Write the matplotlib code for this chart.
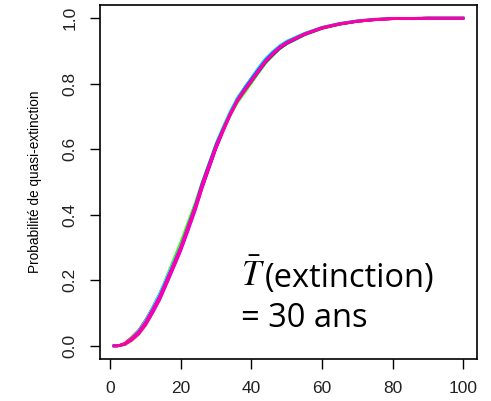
import numpy as np
import matplotlib
matplotlib.use("Agg")
import matplotlib.pyplot as plt

plt.rcParams['font.family'] = ['Liberation Sans', 'DejaVu Sans']
plt.rcParams['mathtext.fontset'] = 'stix'

# years at which the cumulative quasi-extinction probability is read
annees = [1, 2, 4, 6, 8, 10, 12, 14, 16, 18, 20, 22, 24, 26, 28, 30, 32, 34,
          36, 38, 40, 42, 44, 46, 48, 50, 55, 60, 65, 70, 75, 80, 90, 100]

# one curve per simulation run
courbes = [
    [0, 0, .008, .026, .048, .080, .118, .160, .208, .256, .305, .361, .418, .484, .545, .606, .660, .712, .756, .788, .818, .848, .876, .897, .915, .929, .953, .972, .984, .992, .997, .999, 1, 1],
    [0, 0, .003, .015, .034, .062, .100, .140, .190, .242, .296, .358, .421, .492, .553, .612, .660, .705, .745, .776, .806, .836, .864, .886, .907, .922, .949, .968, .981, .990, .995, .999, 1, 1],
    [0, 0, .006, .022, .045, .076, .117, .160, .213, .266, .318, .377, .435, .500, .557, .613, .660, .704, .742, .772, .802, .833, .862, .885, .906, .921, .948, .968, .981, .990, .996, .999, 1, 1],
    [0, 0, .004, .018, .038, .066, .104, .146, .197, .249, .301, .363, .426, .497, .559, .620, .670, .717, .757, .786, .815, .843, .871, .892, .911, .925, .950, .969, .982, .990, .995, .998, 1, 1],
    [0, 0, .006, .023, .046, .078, .118, .161, .210, .258, .306, .364, .422, .488, .547, .607, .660, .711, .755, .787, .818, .849, .877, .898, .916, .930, .954, .972, .984, .992, .996, .999, 1, 1],
    [0, 0, .005, .019, .039, .068, .106, .147, .196, .246, .297, .356, .416, .484, .545, .606, .658, .709, .752, .784, .814, .844, .872, .894, .913, .927, .952, .971, .983, .991, .996, .999, 1, 1],
    [0, 0, .006, .021, .043, .073, .112, .153, .203, .253, .304, .365, .426, .496, .556, .615, .664, .710, .749, .778, .807, .836, .865, .887, .907, .922, .949, .969, .981, .990, .995, .998, 1, 1],
    [0, 0, .004, .017, .036, .064, .101, .141, .190, .240, .291, .350, .411, .480, .542, .603, .655, .704, .746, .778, .808, .839, .868, .890, .910, .924, .950, .969, .982, .990, .995, .998, 1, 1],
    [0, 0, .006, .021, .042, .072, .111, .152, .202, .252, .303, .363, .423, .492, .552, .612, .662, .710, .751, .781, .811, .841, .870, .892, .912, .926, .952, .971, .983, .991, .996, .999, 1, 1],
    [0, 0, .005, .020, .040, .069, .107, .148, .198, .247, .298, .358, .418, .487, .548, .608, .658, .706, .747, .778, .808, .839, .868, .890, .910, .925, .951, .970, .982, .990, .995, .998, 1, 1],
]
couleurs = ['#FF0000', '#FFCC00', '#33FF00', '#00FF99', '#00FFFF',
            '#0033FF', '#6600FF', '#CC00FF', '#FF00FF', '#FF0099']

fig = plt.figure(figsize=(4.91, 4.01), dpi=100)
ax = fig.add_axes([0.2037, 0.1047, 0.7678, 0.8828])

for y, c in zip(courbes, couleurs):
    ax.plot(annees, y, color=c, lw=1.8, solid_joinstyle='miter')

ax.set_xlim(-2.96, 103.96)
ax.set_ylim(-0.04, 1.04)
ax.set_xticks([0, 20, 40, 60, 80, 100])
ax.set_yticks([0.0, 0.2, 0.4, 0.6, 0.8, 1.0])
ax.set_yticklabels(['0.0', '0.2', '0.4', '0.6', '0.8', '1.0'], rotation=90, va='center')
ax.tick_params(axis='both', direction='out', length=7, width=1, labelsize=12.5,
               pad=9, labelcolor='#222222')
for s in ax.spines.values():
    s.set_linewidth(1.2)

ax.set_ylabel('Probabilité de quasi-extinction', fontsize=9.8, labelpad=15)

ax.text(0.375, 0.206, r'$\bar{T}$', transform=ax.transAxes,
        fontsize=25, va='baseline')
ax.text(0.438, 0.203, '(extinction)', transform=ax.transAxes,
        fontsize=23.5, family=['Open Sans', 'DejaVu Sans'], va='baseline')
ax.text(0.373, 0.090, '= 30 ans', transform=ax.transAxes,
        fontsize=23.5, family=['Open Sans', 'DejaVu Sans'], va='baseline')

fig.savefig('out.png', dpi=100)
